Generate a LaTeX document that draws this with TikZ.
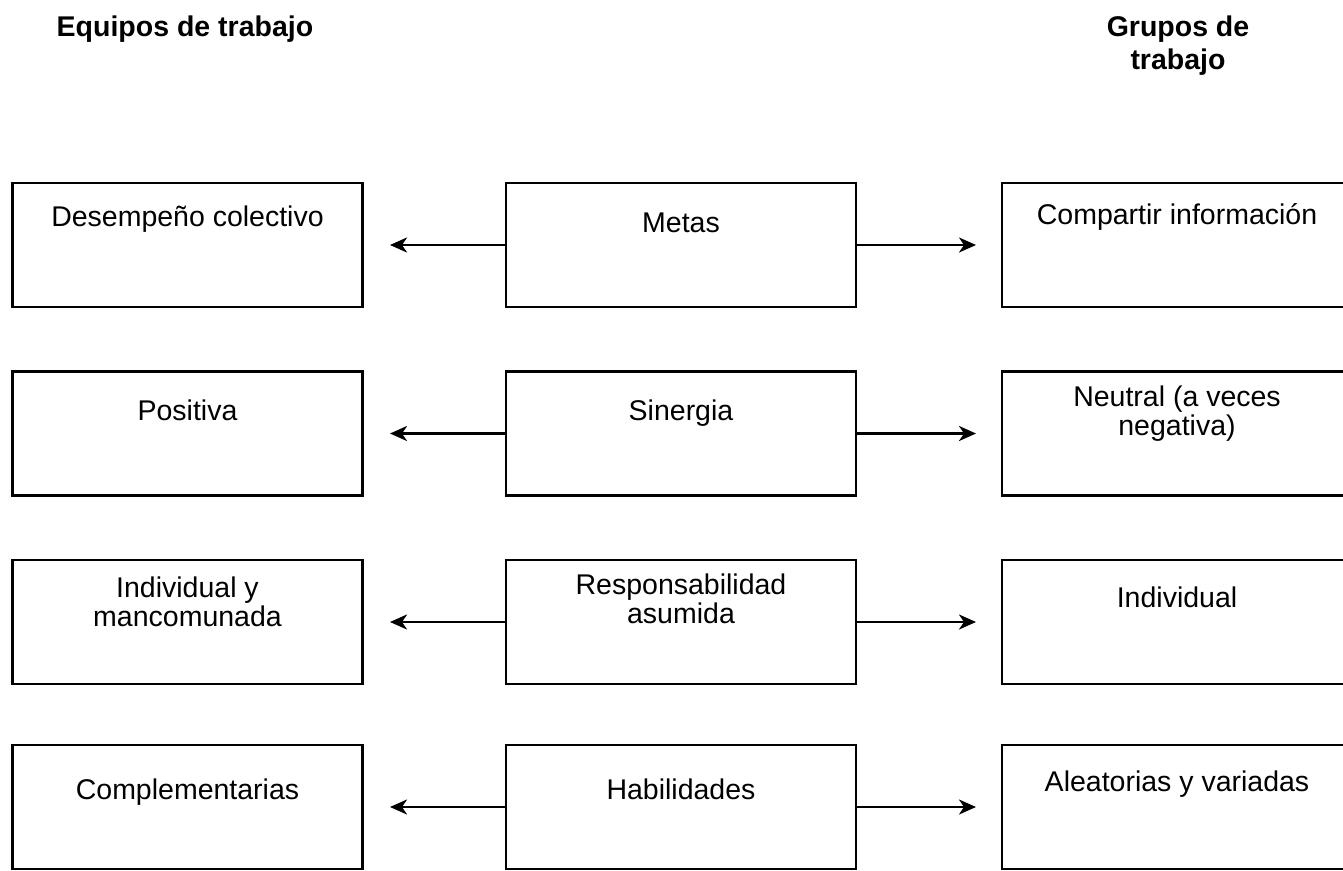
\documentclass[tikz,border=0pt]{standalone}
\usepackage{fontspec}
\setmainfont{Liberation Sans}
\usetikzlibrary{arrows.meta}
\begin{document}
\begin{tikzpicture}[x=1pt,y=-1pt,
  box/.style={draw, line width=2.4pt, minimum width=350pt, minimum height=124pt, inner sep=0pt},
  lbl/.style={anchor=base, inner sep=0pt, align=center, font=\fontsize{28.5}{29}\selectfont},
  ttl/.style={anchor=base, inner sep=0pt, align=center, font=\fontsize{28.5}{33}\selectfont\bfseries},
  arr/.style={line width=2.6pt, -{Stealth[length=17pt,width=15pt,inset=5pt]}}
]
\useasboundingbox (0,0) rectangle (1343,870);
\clip (0,0) rectangle (1343,870);

% titles
\node[ttl] (tL) at (185,36) {Equipos de trabajo};
\node[ttl] (tR) at (1178,69) {Grupos de\\trabajo};

% boxes
\node[box] (L1) at (187.5,245) {};
\node[box] (M1) at (681,245) {};
\node[box] (R1) at (1177,245) {};
\node[box] (L2) at (187.5,433.5) {};
\node[box] (M2) at (681,433.5) {};
\node[box] (R2) at (1177,433.5) {};
\node[box] (L3) at (187.5,622) {};
\node[box] (M3) at (681,622) {};
\node[box] (R3) at (1177,622) {};
\node[box] (L4) at (187.5,807) {};
\node[box] (M4) at (681,807) {};
\node[box] (R4) at (1177,807) {};

% texts
\node[lbl] (L1t) at (187.5,226) {Desempeño colectivo};
\node[lbl] (M1t) at (681,232) {Metas};
\node[lbl] (R1t) at (1177,224) {Compartir información};
\node[lbl] (L2t) at (187.5,420) {Positiva};
\node[lbl] (M2t) at (681,420) {Sinergia};
\node[lbl] (R2t) at (1177,435) {Neutral (a veces\\negativa)};
\node[lbl] (L3t) at (187.5,626) {Individual y\\mancomunada};
\node[lbl] (M3t) at (681,623) {Responsabilidad\\asumida};
\node[lbl] (R3t) at (1177,607) {Individual};
\node[lbl] (L4t) at (187.5,799) {Complementarias};
\node[lbl] (M4t) at (681,799) {Habilidades};
\node[lbl] (R4t) at (1177,791) {Aleatorias y variadas};

% arrow ends
\coordinate (aL1) at (390,245);
\coordinate (aR1) at (976,245);
\coordinate (aL2) at (390,433.5);
\coordinate (aR2) at (976,433.5);
\coordinate (aL3) at (390,622);
\coordinate (aR3) at (976,622);
\coordinate (aL4) at (390,807);
\coordinate (aR4) at (976,807);

\draw[arr] (M1.west) -- (aL1);
\draw[arr] (M1.east) -- (aR1);
\draw[arr] (M2.west) -- (aL2);
\draw[arr] (M2.east) -- (aR2);
\draw[arr] (M3.west) -- (aL3);
\draw[arr] (M3.east) -- (aR3);
\draw[arr] (M4.west) -- (aL4);
\draw[arr] (M4.east) -- (aR4);
\end{tikzpicture}
\end{document}
